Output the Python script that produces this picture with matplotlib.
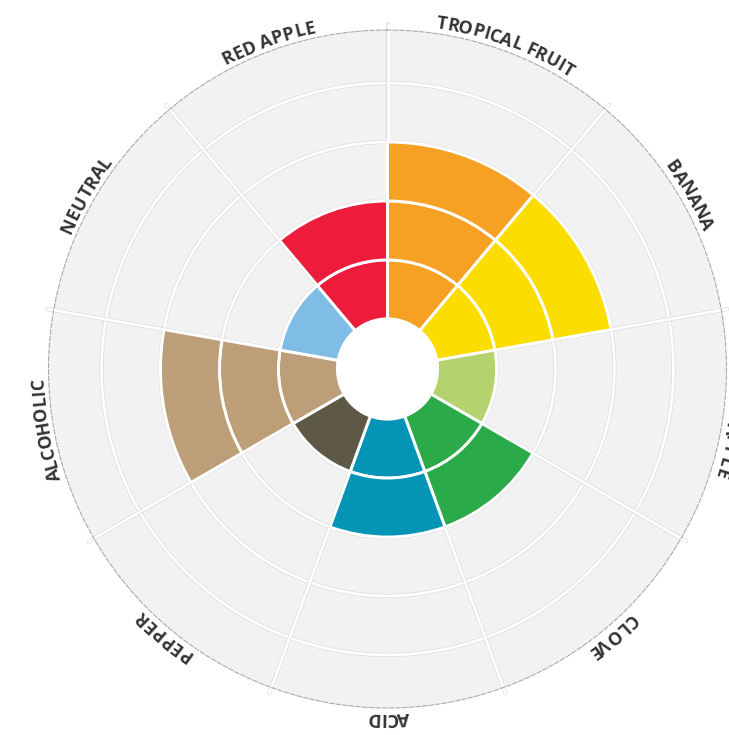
import matplotlib
matplotlib.use('Agg')
import matplotlib.pyplot as plt
import matplotlib.patheffects as pe
import numpy as np
from matplotlib.font_manager import FontProperties, findfont
from matplotlib.ft2font import FT2Font

# Datos de la rueda de aromas (sentido horario desde arriba)
categorias = ['TROPICAL FRUIT', 'BANANA', 'PINEAPPLE', 'CLOVE', 'ACID',
              'PEPPER', 'ALCOHOLIC', 'NEUTRAL', 'RED APPLE']
valores = [3, 3, 1, 2, 2, 1, 3, 1, 2]
colores = ['#F6A124', '#FCDD00', '#B4D26E', '#2BAA4A', '#0394B6',
           '#5E5846', '#BC9F79', '#7FBCE6', '#EC1C3A']
niveles = [1, 2, 3, 4]

HOLE = 0.85      # radio del hueco central
RMAX = 5.75      # borde exterior
PX = 339 / RMAX  # pixeles por unidad radial
DPI = 100

fig = plt.figure(figsize=(7.29, 7.35), dpi=DPI)
cx, cy = 387.5, 735 - 369
ax = fig.add_axes([(cx - 339) / 729, (cy - 339) / 735, 678 / 729, 678 / 735],
                  projection='polar')
ax.set_theta_zero_location('N')
ax.set_theta_direction(-1)
ax.set_facecolor('#F2F2F2')
ax.set_ylim(0, RMAX)
ax.set_xticks([])
ax.set_yticks([])
ax.grid(False)
ax.spines['polar'].set_color('#ababab')
ax.spines['polar'].set_linewidth(0.8)
ax.spines['polar'].set_linestyle((0, (4, 2)))

n = len(categorias)
ancho = 2 * np.pi / n
centros = (np.arange(n) + 0.5) * ancho
sombra = [pe.Stroke(linewidth=2.9, foreground='#dadada'), pe.Normal()]

# anillos de referencia
t = np.linspace(0, 2 * np.pi, 500)
for lv in niveles:
    ax.plot(t, np.full_like(t, HOLE + lv), color='white', lw=2,
            path_effects=sombra, zorder=2)

# lineas radiales entre sectores
for i in range(n):
    a = i * ancho
    ax.plot([a, a], [HOLE, 345 / PX], color='white', lw=2,
            solid_capstyle='round', clip_on=False, path_effects=sombra, zorder=2)

# barras segmentadas
for c, v, col in zip(centros, valores, colores):
    for k in range(v):
        ax.bar(c, 1, width=ancho, bottom=HOLE + k, color=col,
               edgecolor='white', linewidth=2.1, zorder=3)

# hueco central
ax.bar(0, HOLE, width=2 * np.pi, bottom=0, color='white', linewidth=0, zorder=4)

# etiquetas curvas, letra por letra
prop = FontProperties(family=['Open Sans', 'DejaVu Sans'], weight='bold', size=13)
fuente = FT2Font(findfont(prop), hinting_factor=1)
fuente.set_size(13, DPI)

def avance(ch):
    g = fuente.load_char(ord(ch))
    return g.horiAdvance / 64.0

r_base = 344 / PX
for c, nombre in zip(centros, categorias):
    anchos = [avance(ch) * 0.97 for ch in nombre]
    total = sum(anchos)
    pos = -total / 2
    for ch, w in zip(nombre, anchos):
        ang = c + (pos + w / 2) / (r_base * PX)
        pos += w
        if ch == ' ':
            continue
        ax.text(ang, r_base, ch, rotation=-np.degrees(ang), rotation_mode='anchor',
                ha='center', va='baseline', fontproperties=prop, color='#333333',
                clip_on=False, zorder=5)

plt.savefig('out.png', dpi=DPI, facecolor='white')
plt.close()
